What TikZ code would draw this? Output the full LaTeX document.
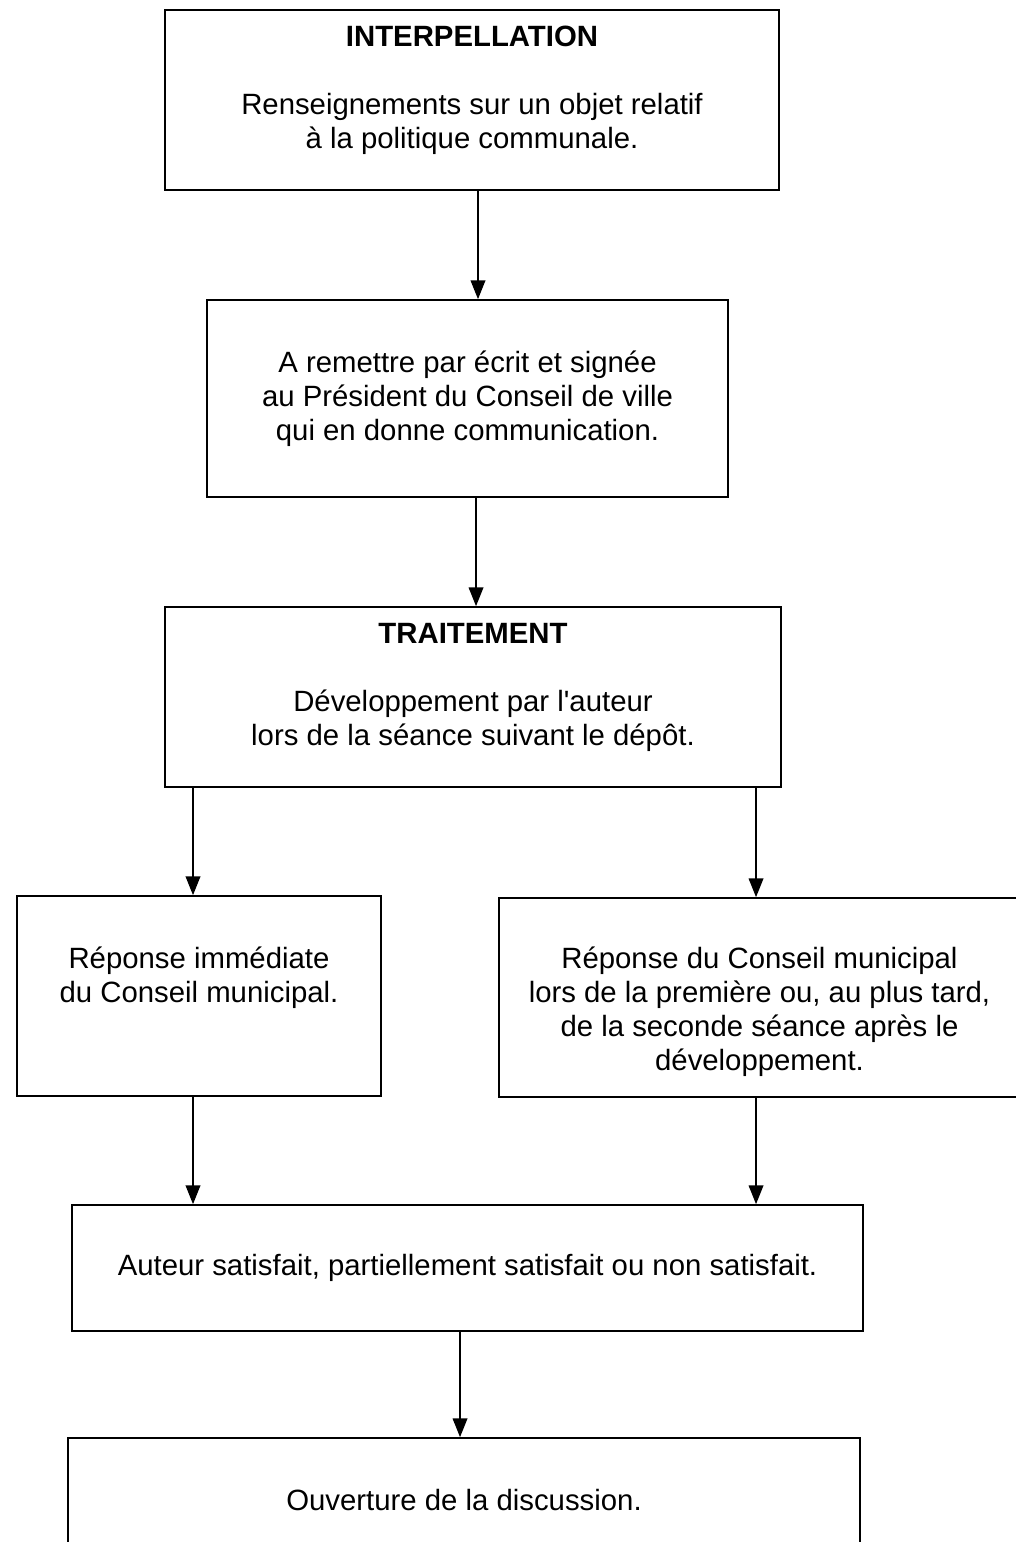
\documentclass[tikz,border=0pt]{standalone}
\usepackage{fontspec}
\setmainfont{Liberation Sans}
\usetikzlibrary{arrows.meta,positioning}

\begin{document}
\begin{tikzpicture}[
		x=0.75pt, y=-0.75pt,
		box/.style={draw, line width=1.3pt, inner sep=0pt},
		txt/.style={font=\fontsize{22}{25.5}\selectfont, align=center, inner sep=0pt},
		arrow/.style={line width=1pt, -{Triangle[length=14pt, width=11pt]}},
	]
		\useasboundingbox[fill=white] (0,0) rectangle (1016,1542);

		\node[box, minimum width=460.5pt, minimum height=135pt] (interp) at (472,100) {};
		\node[box, minimum width=390.75pt, minimum height=147.75pt] (remit) at (467.5,398.5) {};
		\node[box, minimum width=462pt, minimum height=135pt] (traite) at (473,697) {};
		\node[box, minimum width=273pt, minimum height=150pt] (lrep) at (199,996) {};
		\node[box, minimum width=390.75pt, minimum height=149.25pt] (rrep) at (759.5,997.5) {};
		\node[box, minimum width=593.25pt, minimum height=94.5pt] (auteur) at (467.5,1268) {};
		\node[box, minimum width=594pt, minimum height=93pt] (ouvert) at (464,1500) {};

		% texts
		\node[txt, below=12.75pt of interp.north] (interp-t) {\textbf{INTERPELLATION}\\[25.5pt]Renseignements sur un objet relatif\\à la politique communale.};
		\node[txt, below=38.25pt of remit.north] (remit-t) {A remettre par écrit et signée\\au Président du Conseil de ville\\qui en donne communication.};
		\node[txt, below=12.75pt of traite.north] (traite-t) {\textbf{TRAITEMENT}\\[25.5pt]Développement par l\textquotesingle auteur\\lors de la séance suivant le dépôt.};
		\node[txt, below=38.25pt of lrep.north] (lrep-t) {Réponse immédiate\\du Conseil municipal.};
		\node[txt, below=36.75pt of rrep.north] (rrep-t) {Réponse du Conseil municipal\\lors de la première ou, au plus tard,\\de la seconde séance après le\\développement.};
		\node[txt] (auteur-t) at (auteur) {Auteur satisfait, partiellement satisfait ou non satisfait.};
		\node[txt] (ouvert-t) at (ouvert) {Ouverture de la discussion.};

		\draw[arrow] ([xshift=4.5pt]interp.south) -- ([xshift=4.5pt]interp.south |- remit.north);
		\draw[arrow] ([xshift=6.4pt]remit.south) -- ([xshift=6.4pt]remit.south |- traite.north);
		\draw[arrow] ([xshift=-4.5pt]lrep.north |- traite.south) -- ([xshift=-4.5pt]lrep.north);
		\draw[arrow] ([xshift=-2.6pt]rrep.north |- traite.south) -- ([xshift=-2.6pt]rrep.north);
		\draw[arrow] ([xshift=-4.5pt]lrep.south) -- ([xshift=-4.5pt]lrep.south |- auteur.north);
		\draw[arrow] ([xshift=-2.6pt]rrep.south) -- ([xshift=-2.6pt]rrep.south |- auteur.north);
		\draw[arrow] ([xshift=-5.6pt]auteur.south) -- ([xshift=-5.6pt]auteur.south |- ouvert.north);
	\end{tikzpicture}
\end{document}
